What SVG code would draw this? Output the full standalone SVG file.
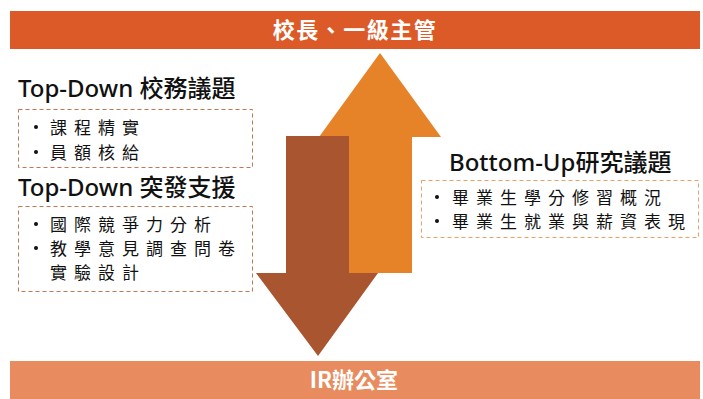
<svg xmlns="http://www.w3.org/2000/svg" width="703" height="399" viewBox="0 0 703 399">
<style>
.bar{font-family:"Noto Sans CJK TC","Noto Sans",sans-serif;font-size:22px;font-weight:bold;fill:#fff;text-anchor:middle}
.title{font-family:"Noto Sans","Noto Sans CJK TC",sans-serif;font-size:24px;font-weight:500;fill:#111}
.item{font-family:"Noto Sans CJK TC",sans-serif;font-size:17px;fill:#111;letter-spacing:7px}
.dot{fill:#111}
</style>
<rect width="703" height="399" fill="#fff"/>
<g id="top">
<rect x="10" y="11" width="690" height="38" fill="#DC5A28"/>
<text class="bar" x="355" y="38" letter-spacing="1.5">校長、一級主管</text>
</g>
<g id="bottom">
<rect x="10" y="361" width="690" height="38" fill="#E88C5F"/>
<text class="bar" x="354" y="388">IR辦公室</text>
</g>
<g id="connectors">
<polygon points="380,53 441,137 412,137 412,273 348,273 348,137 319,137" fill="#E68228"/>
<polygon points="286,136 349,136 349,273 378,273 318,356 256,273 286,273" fill="#A9552F"/>
</g>
<g id="topdown1">
<text class="title" x="18" y="97">Top-Down 校務議題</text>
<rect x="18.5" y="109.5" width="234" height="58" fill="none" stroke="#C47552" stroke-dasharray="4,3"/>
<circle class="dot" cx="36" cy="127" r="2"/>
<text class="item" x="50" y="134">課程精實</text>
<circle class="dot" cx="36" cy="152" r="2"/>
<text class="item" x="50" y="159">員額核給</text>
</g>
<g id="topdown2">
<text class="title" x="18" y="196">Top-Down 突發支援</text>
<rect x="18.5" y="206.5" width="234" height="85" fill="none" stroke="#C47552" stroke-dasharray="4,3"/>
<circle class="dot" cx="36" cy="224" r="2"/>
<text class="item" x="50" y="231">國際競爭力分析</text>
<circle class="dot" cx="36" cy="248" r="2"/>
<text class="item" x="50" y="255">教學意見調查問卷</text>
<text class="item" x="50" y="279">實驗設計</text>
</g>
<g id="bottomup">
<text class="title" x="449" y="171">Bottom-Up研究議題</text>
<rect x="421.5" y="180.5" width="277" height="57" fill="none" stroke="#EBA06A" stroke-dasharray="4,3"/>
<circle class="dot" cx="437" cy="197" r="2"/>
<text class="item" x="452" y="204">畢業生學分修習概況</text>
<circle class="dot" cx="437" cy="221" r="2"/>
<text class="item" x="452" y="228">畢業生就業與薪資表現</text>
</g>
</svg>
